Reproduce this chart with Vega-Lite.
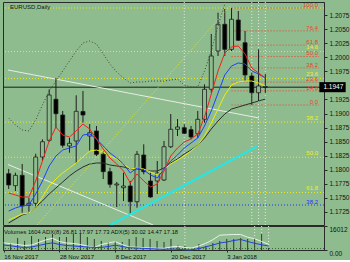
{
"$schema":"https://vega.github.io/schema/vega-lite/v6.json",
"background":"#8fbc8f",
"padding":{"left":1,"top":1,"right":0,"bottom":0},
"spacing":1,
"bounds":"flush",
"config":{"view":{"stroke":"#2a2a2a","strokeWidth":1},"axis":{"labelFont":"Liberation Sans","labelColor":"#111111","domainColor":"#2a2a2a","tickColor":"#2a2a2a","grid":false,"title":null},"text":{"font":"Liberation Sans"}},
"datasets":{
"c":[
{"i":0,"o":1.17925,"h":1.18009,"l":1.17652,"c":1.17723,"v":6005,"r":1.17580,"b":1.17259,"y":1.17098,"k":1.17045,"g":1.18920,"a":30.0,"d":20.8},
{"i":1,"o":1.17711,"h":1.17943,"l":1.17616,"c":1.17896,"v":4670,"r":1.17545,"b":1.17313,"y":1.17152,"k":1.17116,"g":1.18795,"a":26.3,"d":17.5},
{"i":2,"o":1.17896,"h":1.18098,"l":1.17229,"c":1.17348,"v":8006,"r":1.17509,"b":1.17348,"y":1.17205,"k":1.17188,"g":1.18705,"a":22.9,"d":13.3},
{"i":3,"o":1.17361,"h":1.17496,"l":1.17246,"c":1.17396,"v":6005,"r":1.17509,"b":1.17366,"y":1.17223,"k":1.17223,"g":1.18688,"a":18.8,"d":10.4},
{"i":4,"o":1.17396,"h":1.18282,"l":1.17318,"c":1.18223,"v":9340,"r":1.17795,"b":1.17563,"y":1.17330,"k":1.17330,"g":1.18884,"a":20.8,"d":12.5},
{"i":5,"o":1.18223,"h":1.18539,"l":1.18152,"c":1.18496,"v":7339,"r":1.18152,"b":1.17795,"y":1.17509,"k":1.17438,"g":1.19152,"a":31.3,"d":18.8},
{"i":6,"o":1.18521,"h":1.19432,"l":1.18491,"c":1.19330,"v":8673,"r":1.18509,"b":1.18063,"y":1.17705,"k":1.17563,"g":1.19402,"a":41.7,"d":25.0},
{"i":7,"o":1.19254,"h":1.19634,"l":1.18736,"c":1.18996,"v":10675,"r":1.18759,"b":1.18241,"y":1.17830,"k":1.17670,"g":1.19580,"a":48.8,"d":30.0},
{"i":8,"o":1.18973,"h":1.19045,"l":1.18389,"c":1.18432,"v":8673,"r":1.18616,"b":1.18348,"y":1.17938,"k":1.17777,"g":1.19759,"a":35.4,"d":22.9},
{"i":9,"o":1.18420,"h":1.18568,"l":1.18300,"c":1.18468,"v":8673,"r":1.18580,"b":1.18384,"y":1.18027,"k":1.17884,"g":1.19938,"a":29.2,"d":18.8},
{"i":10,"o":1.18509,"h":1.19325,"l":1.18111,"c":1.19039,"v":10675,"r":1.18688,"b":1.18420,"y":1.18116,"k":1.17973,"g":1.20116,"a":27.1,"d":16.7},
{"i":11,"o":1.19036,"h":1.19402,"l":1.18836,"c":1.18973,"v":10675,"r":1.18812,"b":1.18616,"y":1.18223,"k":1.18045,"g":1.20259,"a":22.9,"d":14.6},
{"i":12,"o":1.18598,"h":1.18812,"l":1.18330,"c":1.18657,"v":8673,"r":1.18723,"b":1.18634,"y":1.18330,"k":1.18098,"g":1.20295,"a":16.7,"d":12.5},
{"i":13,"o":1.18688,"h":1.18777,"l":1.18241,"c":1.18271,"v":7339,"r":1.18545,"b":1.18545,"y":1.18348,"k":1.18116,"g":1.20241,"a":10.4,"d":10.4},
{"i":14,"o":1.18271,"h":1.18330,"l":1.17830,"c":1.17961,"v":6005,"r":1.18366,"b":1.18420,"y":1.18313,"k":1.18116,"g":1.20063,"a":22.9,"d":10.8},
{"i":15,"o":1.17961,"h":1.18032,"l":1.17675,"c":1.17736,"v":5337,"r":1.18205,"b":1.18295,"y":1.18241,"k":1.18080,"g":1.19884,"a":29.2,"d":14.6},
{"i":16,"o":1.17723,"h":1.17777,"l":1.17330,"c":1.17741,"v":6005,"r":1.18098,"b":1.18205,"y":1.18188,"k":1.18063,"g":1.19741,"a":34.6,"d":20.0},
{"i":17,"o":1.17675,"h":1.17943,"l":1.17438,"c":1.17705,"v":5337,"r":1.17973,"b":1.18098,"y":1.18098,"k":1.18045,"g":1.19634,"a":22.9,"d":14.6},
{"i":18,"o":1.17705,"h":1.17795,"l":1.17200,"c":1.17425,"v":7339,"r":1.17759,"b":1.17938,"y":1.18009,"k":1.18009,"g":1.19545,"a":12.5,"d":9.6},
{"i":19,"o":1.17425,"h":1.18330,"l":1.17318,"c":1.18271,"v":8673,"r":1.17920,"b":1.18027,"y":1.18027,"k":1.18009,"g":1.19563,"a":11.7,"d":8.3},
{"i":20,"o":1.18259,"h":1.18450,"l":1.17914,"c":1.17961,"v":8006,"r":1.17795,"b":1.17991,"y":1.18009,"k":1.17991,"g":1.19563,"a":10.0,"d":7.1},
{"i":21,"o":1.17795,"h":1.17943,"l":1.17496,"c":1.17509,"v":7339,"r":1.17688,"b":1.17902,"y":1.17955,"k":1.17973,"g":1.19580,"a":8.3,"d":5.4},
{"i":22,"o":1.17795,"h":1.18152,"l":1.17563,"c":1.17938,"v":6005,"r":1.17741,"b":1.17848,"y":1.17902,"k":1.17973,"g":1.19580,"a":7.1,"d":4.2},
{"i":23,"o":1.17813,"h":1.18509,"l":1.17795,"c":1.18407,"v":5337,"r":1.17973,"b":1.18009,"y":1.18009,"k":1.18027,"g":1.19580,"a":7.1,"d":2.9},
{"i":24,"o":1.18407,"h":1.18991,"l":1.18384,"c":1.18718,"v":7339,"r":1.18241,"b":1.18152,"y":1.18098,"k":1.18116,"g":1.19598,"a":12.5,"d":4.2},
{"i":25,"o":1.18718,"h":1.18902,"l":1.18598,"c":1.18759,"v":3336,"r":1.18384,"b":1.18259,"y":1.18170,"k":1.18188,"g":1.19616,"a":15.8,"d":2.9},
{"i":26,"o":1.18746,"h":1.18807,"l":1.18629,"c":1.18646,"v":2669,"r":1.18491,"b":1.18384,"y":1.18241,"k":1.18277,"g":1.19509,"a":10.4,"d":0.8},
{"i":27,"o":1.18711,"h":1.18777,"l":1.18539,"c":1.18580,"v":1334,"r":1.18545,"b":1.18473,"y":1.18330,"k":1.18348,"g":1.19473,"a":8.3,"d":0.5},
{"i":28,"o":1.18639,"h":1.19045,"l":1.18568,"c":1.18896,"v":4003,"r":1.18634,"b":1.18563,"y":1.18438,"k":1.18438,"g":1.19473,"a":16.7,"d":6.3},
{"i":29,"o":1.18896,"h":1.19521,"l":1.18836,"c":1.19432,"v":2669,"r":1.18938,"b":1.18777,"y":1.18598,"k":1.18563,"g":1.19759,"a":27.9,"d":13.3},
{"i":30,"o":1.19432,"h":1.20420,"l":1.19371,"c":1.20027,"v":4670,"r":1.19348,"b":1.19045,"y":1.18830,"k":1.18723,"g":1.20116,"a":42.9,"d":20.8},
{"i":31,"o":1.20116,"h":1.20800,"l":1.20027,"c":1.20593,"v":6005,"r":1.19759,"b":1.19366,"y":1.19080,"k":1.18866,"g":1.20563,"a":61.7,"d":29.2},
{"i":32,"o":1.20593,"h":1.20866,"l":1.20027,"c":1.20146,"v":7339,"r":1.20080,"b":1.19688,"y":1.19330,"k":1.18991,"g":1.20955,"a":63.3,"d":33.3},
{"i":33,"o":1.20146,"h":1.20884,"l":1.20116,"c":1.20682,"v":7339,"r":1.20188,"b":1.19848,"y":1.19509,"k":1.19080,"g":1.21366,"a":64.6,"d":39.6},
{"i":34,"o":1.20670,"h":1.20830,"l":1.20295,"c":1.20307,"v":8006,"r":1.20205,"b":1.19902,"y":1.19563,"k":1.19116,"g":null,"a":64.6,"d":43.8},
{"i":35,"o":1.20264,"h":1.20473,"l":1.19580,"c":1.19688,"v":7339,"r":1.20063,"b":1.19884,"y":1.19580,"k":1.19152,"g":null,"a":53.3,"d":35.4},
{"i":36,"o":1.19670,"h":1.19729,"l":1.19152,"c":1.19371,"v":8006,"r":1.19813,"b":1.19759,"y":1.19580,"k":1.19187,"g":null,"a":46.7,"d":27.9},
{"i":37,"o":1.19371,"h":1.20146,"l":1.19223,"c":1.19491,"v":10675,"r":1.19723,"b":1.19705,"y":1.19545,"k":1.19223,"g":null,"a":35.4,"d":21.7},
{"i":38,"o":1.19480,"h":1.19705,"l":1.19366,"c":1.19470,"v":1604,"r":1.19634,"b":1.19634,"y":1.19491,"k":1.19259,"g":null,"a":23.8,"d":16.7}
],
"fr":[{"t":"100.0","p":1.20884},{"t":"76.4","p":1.20475},{"t":"61.8","p":1.20222},{"t":"50.0","p":1.20018},{"t":"38.2","p":1.19814},{"t":"23.6","p":1.19561},{"t":"14.6","p":1.19405},{"t":"0.0","p":1.19152}],
"fy":[{"t":"0.0","p":1.20884},{"t":"14.6","p":1.20106},{"t":"23.6","p":1.19626},{"t":"38.2","p":1.18847},{"t":"50.0","p":1.18218},{"t":"61.8","p":1.17589}],
"vl":[{"i":26},{"i":36},{"i":37},{"i":38}]
},
"vconcat":[
{"width":321,"height":223,
"layer":[
{"data":{"name":"fy"},"mark":{"type":"rule","color":"#e8e81c","strokeDash":[1,2]},"encoding":{"y":{"field":"p","type":"quantitative","scale":{"domain":[1.17009,1.20991],"nice":false,"zero":false},"axis":{"orient":"right","values":[1.2075,1.205,1.2025,1.2,1.1975,1.1925,1.19,1.1875,1.185,1.1825,1.18,1.1775,1.175,1.1725],"format":".4f","tickSize":3,"labelPadding":2,"labelFontSize":6.5,"title":null}}}},
{"data":{"values":[{"t":"38.2","p":1.17366}]},"mark":{"type":"rule","color":"#2030ff","strokeDash":[1,2]},"encoding":{"y":{"field":"p","type":"quantitative","axis":{"orient":"right","values":[1.2075,1.205,1.2025,1.2,1.1975,1.1925,1.19,1.1875,1.185,1.1825,1.18,1.1775,1.175,1.1725],"format":".4f","tickSize":3,"labelPadding":2,"labelFontSize":6.5,"title":null}}}},
{"data":{"name":"fr"},"mark":{"type":"rule","color":"#f03c28","strokeDash":[1,2]},"encoding":{"x":{"datum":33,"type":"quantitative","axis":null},"x2":{"datum":45.95},"y":{"field":"p","type":"quantitative","axis":{"orient":"right","values":[1.2075,1.205,1.2025,1.2,1.1975,1.1925,1.19,1.1875,1.185,1.1825,1.18,1.1775,1.175,1.1725],"format":".4f","tickSize":3,"labelPadding":2,"labelFontSize":6.5,"title":null}}}},
{"data":{"name":"vl"},"mark":{"type":"rule","color":"#e4e4e4","strokeDash":[1,2]},"encoding":{"x":{"field":"i","type":"quantitative","axis":null}}},
{"data":{"values":[{"p":1.1947}]},"mark":{"type":"rule","color":"#1a1a1a"},"encoding":{"y":{"field":"p","type":"quantitative","axis":{"orient":"right","values":[1.2075,1.205,1.2025,1.2,1.1975,1.1925,1.19,1.1875,1.185,1.1825,1.18,1.1775,1.175,1.1725],"format":".4f","tickSize":3,"labelPadding":2,"labelFontSize":6.5,"title":null}}}},
{"data":{"values":[{"id":"a","i":-0.1,"p":1.19777},{"id":"a","i":37.06,"p":1.18920},{"id":"b","i":-0.1,"p":1.18089},{"id":"b","i":21.4,"p":1.17009}]},"mark":{"type":"line","color":"#e6eee6","strokeWidth":1,"clip":true},"encoding":{"x":{"field":"i","type":"quantitative","axis":null},"y":{"field":"p","type":"quantitative","axis":{"orient":"right","values":[1.2075,1.205,1.2025,1.2,1.1975,1.1925,1.19,1.1875,1.185,1.1825,1.18,1.1775,1.175,1.1725],"format":".4f","tickSize":3,"labelPadding":2,"labelFontSize":6.5,"title":null}},"detail":{"field":"id"}}},
{"data":{"name":"c"},"mark":{"type":"rule","color":"#1e1e1e","clip":true},"encoding":{"x":{"field":"i","type":"quantitative","scale":{"domain":[-0.1,45.95],"nice":false,"zero":false},"axis":null},"y":{"field":"l","type":"quantitative","axis":{"orient":"right","values":[1.2075,1.205,1.2025,1.2,1.1975,1.1925,1.19,1.1875,1.185,1.1825,1.18,1.1775,1.175,1.1725],"format":".4f","tickSize":3,"labelPadding":2,"labelFontSize":6.5,"title":null}},"y2":{"field":"h"}}},
{"data":{"name":"c"},"mark":{"type":"bar","size":4,"stroke":"#1e1e1e","strokeWidth":0.8,"clip":true},"encoding":{"x":{"field":"i","type":"quantitative","axis":null},"y":{"field":"o","type":"quantitative","axis":{"orient":"right","values":[1.2075,1.205,1.2025,1.2,1.1975,1.1925,1.19,1.1875,1.185,1.1825,1.18,1.1775,1.175,1.1725],"format":".4f","tickSize":3,"labelPadding":2,"labelFontSize":6.5,"title":null}},"y2":{"field":"c"},"fill":{"condition":{"test":"datum.c < datum.o","value":"#000000"},"value":"#8fbc8f"}}},
{"data":{"name":"c"},"mark":{"type":"line","color":"#2a302a","strokeWidth":1,"clip":true},"encoding":{"x":{"field":"i","type":"quantitative","axis":null},"y":{"field":"k","type":"quantitative","axis":{"orient":"right","values":[1.2075,1.205,1.2025,1.2,1.1975,1.1925,1.19,1.1875,1.185,1.1825,1.18,1.1775,1.175,1.1725],"format":".4f","tickSize":3,"labelPadding":2,"labelFontSize":6.5,"title":null}}}},
{"data":{"name":"c"},"mark":{"type":"line","color":"#ecec10","strokeWidth":1,"clip":true},"encoding":{"x":{"field":"i","type":"quantitative","axis":null},"y":{"field":"y","type":"quantitative","axis":{"orient":"right","values":[1.2075,1.205,1.2025,1.2,1.1975,1.1925,1.19,1.1875,1.185,1.1825,1.18,1.1775,1.175,1.1725],"format":".4f","tickSize":3,"labelPadding":2,"labelFontSize":6.5,"title":null}}}},
{"data":{"name":"c"},"mark":{"type":"line","color":"#2040ff","strokeWidth":1,"clip":true},"encoding":{"x":{"field":"i","type":"quantitative","axis":null},"y":{"field":"b","type":"quantitative","axis":{"orient":"right","values":[1.2075,1.205,1.2025,1.2,1.1975,1.1925,1.19,1.1875,1.185,1.1825,1.18,1.1775,1.175,1.1725],"format":".4f","tickSize":3,"labelPadding":2,"labelFontSize":6.5,"title":null}}}},
{"data":{"name":"c"},"mark":{"type":"line","color":"#f02020","strokeWidth":1,"clip":true},"encoding":{"x":{"field":"i","type":"quantitative","axis":null},"y":{"field":"r","type":"quantitative","axis":{"orient":"right","values":[1.2075,1.205,1.2025,1.2,1.1975,1.1925,1.19,1.1875,1.185,1.1825,1.18,1.1775,1.175,1.1725],"format":".4f","tickSize":3,"labelPadding":2,"labelFontSize":6.5,"title":null}}}},
{"data":{"name":"c"},"mark":{"type":"line","color":"#3a4a3a","strokeDash":[1,2],"strokeWidth":1,"clip":true},"encoding":{"x":{"field":"i","type":"quantitative","axis":null},"y":{"field":"g","type":"quantitative","axis":{"orient":"right","values":[1.2075,1.205,1.2025,1.2,1.1975,1.1925,1.19,1.1875,1.185,1.1825,1.18,1.1775,1.175,1.1725],"format":".4f","tickSize":3,"labelPadding":2,"labelFontSize":6.5,"title":null}}}},
{"data":{"values":[{"i":15.06,"p":1.17009},{"i":36.77,"p":1.18411}]},"mark":{"type":"line","color":"#20e8e8","strokeWidth":2,"clip":true},"encoding":{"x":{"field":"i","type":"quantitative","axis":null},"y":{"field":"p","type":"quantitative","axis":{"orient":"right","values":[1.2075,1.205,1.2025,1.2,1.1975,1.1925,1.19,1.1875,1.185,1.1825,1.18,1.1775,1.175,1.1725],"format":".4f","tickSize":3,"labelPadding":2,"labelFontSize":6.5,"title":null}}}},
{"data":{"values":[{"i":4.2,"p":1.17009},{"i":32.75,"p":1.20920}]},"mark":{"type":"line","color":"#e8e81c","strokeDash":[1,2],"strokeWidth":1,"clip":true},"encoding":{"x":{"field":"i","type":"quantitative","axis":null},"y":{"field":"p","type":"quantitative","axis":{"orient":"right","values":[1.2075,1.205,1.2025,1.2,1.1975,1.1925,1.19,1.1875,1.185,1.1825,1.18,1.1775,1.175,1.1725],"format":".4f","tickSize":3,"labelPadding":2,"labelFontSize":6.5,"title":null}}}},
{"data":{"name":"fy"},"transform":[{"filter":"datum.t != '0.0'"}],"mark":{"type":"text","color":"#f0f020","fontSize":6,"align":"right","baseline":"bottom","dy":-1.5},"encoding":{"x":{"datum":45.8,"type":"quantitative","axis":null},"y":{"field":"p","type":"quantitative","axis":{"orient":"right","values":[1.2075,1.205,1.2025,1.2,1.1975,1.1925,1.19,1.1875,1.185,1.1825,1.18,1.1775,1.175,1.1725],"format":".4f","tickSize":3,"labelPadding":2,"labelFontSize":6.5,"title":null}},"text":{"field":"t"}}},
{"data":{"values":[{"t":"38.2","p":1.17366}]},"mark":{"type":"text","color":"#2030ff","fontSize":6,"align":"right","baseline":"bottom"},"encoding":{"x":{"datum":45.8,"type":"quantitative","axis":null},"y":{"field":"p","type":"quantitative","axis":{"orient":"right","values":[1.2075,1.205,1.2025,1.2,1.1975,1.1925,1.19,1.1875,1.185,1.1825,1.18,1.1775,1.175,1.1725],"format":".4f","tickSize":3,"labelPadding":2,"labelFontSize":6.5,"title":null}},"text":{"field":"t"}}},
{"data":{"name":"fr"},"mark":{"type":"text","color":"#f03c28","fontSize":6,"align":"right","baseline":"bottom"},"encoding":{"x":{"datum":45.8,"type":"quantitative","axis":null},"y":{"field":"p","type":"quantitative","axis":{"orient":"right","values":[1.2075,1.205,1.2025,1.2,1.1975,1.1925,1.19,1.1875,1.185,1.1825,1.18,1.1775,1.175,1.1725],"format":".4f","tickSize":3,"labelPadding":2,"labelFontSize":6.5,"title":null}},"text":{"field":"t"}}},
{"data":{"values":[{"t":"EURUSD,Daily","p":1.2091}]},"mark":{"type":"text","color":"#111111","fontSize":6,"align":"left","baseline":"middle"},"encoding":{"x":{"datum":0.2,"type":"quantitative","axis":null},"y":{"field":"p","type":"quantitative","axis":{"orient":"right","values":[1.2075,1.205,1.2025,1.2,1.1975,1.1925,1.19,1.1875,1.185,1.1825,1.18,1.1775,1.175,1.1725],"format":".4f","tickSize":3,"labelPadding":2,"labelFontSize":6.5,"title":null}},"text":{"field":"t"}}},
{"data":{"values":[{"p0":1.1938,"p1":1.1956}]},"mark":{"type":"rect","color":"#000000"},"encoding":{"x":{"datum":46.0,"type":"quantitative","axis":null},"x2":{"datum":49.9},"y":{"field":"p0","type":"quantitative","axis":{"orient":"right","values":[1.2075,1.205,1.2025,1.2,1.1975,1.1925,1.19,1.1875,1.185,1.1825,1.18,1.1775,1.175,1.1725],"format":".4f","tickSize":3,"labelPadding":2,"labelFontSize":6.5,"title":null}},"y2":{"field":"p1"}}},
{"data":{"values":[{"t":"1.1947","p":1.1947}]},"mark":{"type":"text","color":"#ffffff","fontSize":6.5,"align":"left","baseline":"middle"},"encoding":{"x":{"datum":46.6,"type":"quantitative","axis":null},"y":{"field":"p","type":"quantitative","axis":{"orient":"right","values":[1.2075,1.205,1.2025,1.2,1.1975,1.1925,1.19,1.1875,1.185,1.1825,1.18,1.1775,1.175,1.1725],"format":".4f","tickSize":3,"labelPadding":2,"labelFontSize":6.5,"title":null}},"text":{"field":"t"}}}
]},
{"width":321,"height":24,
"layer":[
{"data":{"name":"vl"},"mark":{"type":"rule","color":"#e4e4e4","strokeDash":[1,2]},"encoding":{"x":{"field":"i","type":"quantitative"}}},
{"data":{"name":"c"},"mark":{"type":"rule","color":"#2c3a2c","strokeWidth":1},"encoding":{"x":{"field":"i","type":"quantitative","scale":{"domain":[-0.1,45.95],"nice":false,"zero":false},"axis":{"orient":"bottom","values":[0,8,16,24,32],"labelExpr":"datum.value==0?'16 Nov 2017':datum.value==8?'28 Nov 2017':datum.value==16?'8 Dec 2017':datum.value==24?'20 Dec 2017':'3 Jan 2018'","labelAlign":"left","labelBaseline":"top","labelFontSize":6,"tickSize":2,"labelPadding":1,"labelFlush":false,"labelOverlap":false}},"y":{"field":"v","type":"quantitative","scale":{"domain":[0,16012],"nice":false,"zero":false},"axis":{"orient":"right","values":[0,16012],"labelExpr":"datum.value==0?'0.00':'16012'","labelBaseline":"top","tickSize":3,"labelPadding":2,"labelFontSize":6.5}},"y2":{"datum":0}}},
{"data":{"values":[{"p":6}]},"mark":{"type":"rule","color":"#2f6a2f","strokeDash":[1,2]},"encoding":{"y":{"field":"p","type":"quantitative","scale":{"domain":[0,100]},"axis":null}}},
{"data":{"name":"c"},"mark":{"type":"line","color":"#e8f2e8","strokeWidth":1},"encoding":{"x":{"field":"i","type":"quantitative"},"y":{"field":"a","type":"quantitative","scale":{"domain":[0,100]},"axis":null}}},
{"data":{"name":"c"},"mark":{"type":"line","color":"#2040e0","strokeWidth":1},"encoding":{"x":{"field":"i","type":"quantitative"},"y":{"field":"d","type":"quantitative","scale":{"domain":[0,100]},"axis":null}}},
{"data":{"values":[{"t":"Volumes 1604 ADX(8) 26.81 17.97 17.73 ADX(5) 30.02 14.47 17.18","p":12009}]},"mark":{"type":"text","color":"#111111","fontSize":5.8,"align":"left","baseline":"middle"},"encoding":{"x":{"datum":0.05,"type":"quantitative"},"y":{"field":"p","type":"quantitative","scale":{"domain":[0,16012]},"axis":null},"text":{"field":"t"}}}
],
"resolve":{"scale":{"y":"independent"}}}
]
}
